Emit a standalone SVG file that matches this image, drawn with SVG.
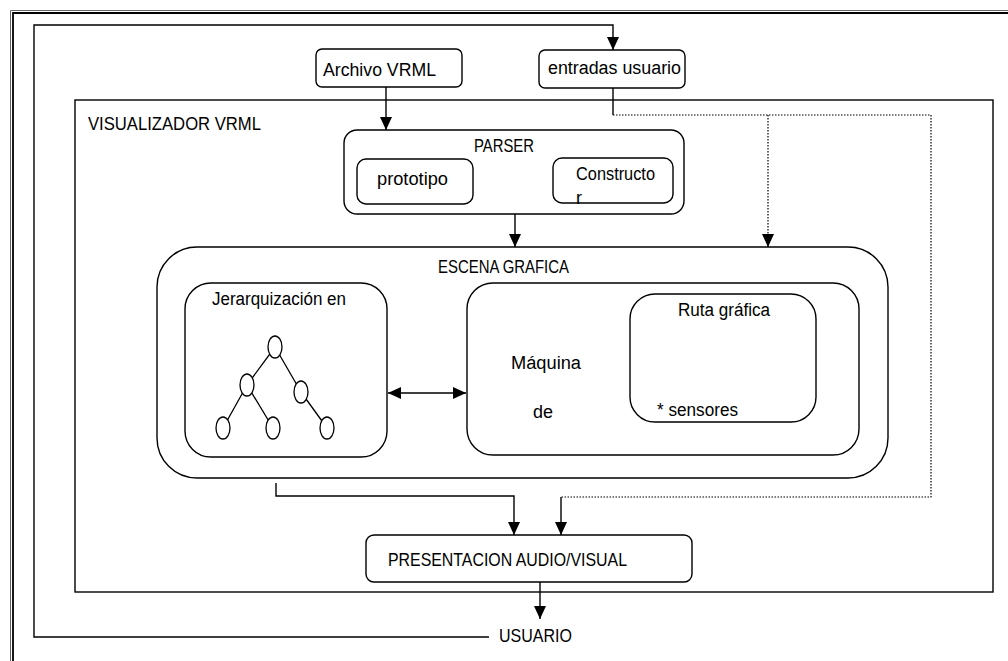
<svg xmlns="http://www.w3.org/2000/svg" width="1008" height="661" viewBox="0 0 1008 661">
<style>
text{font-family:"Liberation Sans",Arial,sans-serif;font-size:18px;fill:#000}
.box{fill:none;stroke:#000;stroke-width:1.4}
.ln{fill:none;stroke:#000;stroke-width:1.4}
.dot{fill:none;stroke:#000;stroke-width:1.2;stroke-dasharray:1.5 1.5}
</style>
<defs>
<marker id="ah" markerUnits="userSpaceOnUse" markerWidth="13" markerHeight="12" refX="13" refY="6" orient="auto">
<path d="M0,0 L13,6 L0,12 z" fill="#000"/>
</marker>
<marker id="as" markerUnits="userSpaceOnUse" markerWidth="13" markerHeight="12" refX="0" refY="6" orient="auto">
<path d="M13,0 L0,6 L13,12 z" fill="#000"/>
</marker>
</defs>
<rect width="1008" height="661" fill="#fff"/>
<g id="frame">
<path d="M1008,10.5 H10.5 V661" fill="none" stroke="#666" stroke-width="1"/>
<path d="M1008,13 H13 V661" fill="none" stroke="#000" stroke-width="1.8"/>
</g>
<g id="visualizador">
<rect class="box" x="75" y="100" width="918" height="492"/>
<text x="88" y="130" textLength="173" lengthAdjust="spacingAndGlyphs">VISUALIZADOR  VRML</text>
</g>
<g id="archivo">
<rect class="box" x="316" y="49" width="146" height="38" rx="6"/>
<text x="323" y="76" textLength="113" lengthAdjust="spacingAndGlyphs">Archivo VRML</text>
</g>
<g id="entradas">
<rect class="box" x="539" y="50" width="146" height="38" rx="6"/>
<text x="548" y="74" textLength="133" lengthAdjust="spacingAndGlyphs">entradas usuario</text>
</g>
<g id="parser">
<rect class="box" x="344" y="130" width="340" height="84" rx="13"/>
<text x="474" y="152" textLength="60" lengthAdjust="spacingAndGlyphs">PARSER</text>
</g>
<g id="prototipo">
<rect class="box" x="357" y="159" width="116" height="45" rx="9"/>
<text x="377" y="185" textLength="71" lengthAdjust="spacingAndGlyphs">prototipo</text>
</g>
<g id="constructor">
<rect class="box" x="553" y="158" width="120" height="45" rx="9"/>
<text x="576" y="180" textLength="79" lengthAdjust="spacingAndGlyphs">Constructo</text>
<text x="576" y="204">r</text>
</g>
<g id="escena">
<rect class="box" x="157" y="247" width="731" height="231" rx="40"/>
<text x="438" y="273" textLength="131" lengthAdjust="spacingAndGlyphs">ESCENA GRAFICA</text>
</g>
<g id="jerarquizacion">
<rect class="box" x="185" y="283" width="202" height="174" rx="26"/>
<text x="212" y="305" textLength="134" lengthAdjust="spacingAndGlyphs">Jerarquización en</text>
<g fill="#fff" stroke="#000" stroke-width="1.3">
<path d="M275,347 L247,385 M275,347 L301,392 M247,385 L223,428 M247,385 L273,428 M301,392 L327,428"/>
<ellipse cx="275" cy="347" rx="7" ry="11"/>
<ellipse cx="247" cy="385" rx="7" ry="11"/>
<ellipse cx="301" cy="392" rx="7" ry="11"/>
<ellipse cx="223" cy="428" rx="7" ry="11"/>
<ellipse cx="273" cy="428" rx="7" ry="11"/>
<ellipse cx="327" cy="428" rx="7" ry="11"/>
</g>
</g>
<g id="maquina">
<rect class="box" x="467" y="283" width="392" height="172" rx="26"/>
<text x="511" y="369" textLength="70" lengthAdjust="spacingAndGlyphs">Máquina</text>
<text x="533" y="418" textLength="20" lengthAdjust="spacingAndGlyphs">de</text>
</g>
<g id="ruta">
<rect class="box" x="630" y="294" width="186" height="128" rx="25"/>
<text x="678" y="316" textLength="92" lengthAdjust="spacingAndGlyphs">Ruta gráfica</text>
<text x="657" y="416" textLength="81" lengthAdjust="spacingAndGlyphs">* sensores</text>
</g>
<g id="presentacion">
<rect class="box" x="366" y="535" width="326" height="47" rx="8"/>
<text x="388" y="566" textLength="239" lengthAdjust="spacingAndGlyphs">PRESENTACION  AUDIO/VISUAL</text>
</g>
<g id="usuario">
<text x="499" y="642" textLength="73" lengthAdjust="spacingAndGlyphs">USUARIO</text>
</g>
<g id="connectors">
<path class="ln" d="M489,637 H34 V25 H613 V50" marker-end="url(#ah)"/>
<path class="ln" d="M386,87 V130" marker-end="url(#ah)"/>
<path class="ln" d="M613,88 V115"/>
<path class="dot" d="M613,115 H931 V497 H561"/>
<path class="ln" d="M561,497 V535" marker-end="url(#ah)"/>
<path class="dot" d="M768,115 V236"/>
<path class="ln" d="M768,234 V247" marker-end="url(#ah)"/>
<path class="ln" d="M515,214 V247" marker-end="url(#ah)"/>
<path class="ln" d="M388,393 H466" marker-start="url(#as)" marker-end="url(#ah)"/>
<path class="ln" d="M276,483 V496 H514 V535" marker-end="url(#ah)"/>
<path class="ln" d="M540,582 V619" marker-end="url(#ah)"/>
</g>
</svg>
